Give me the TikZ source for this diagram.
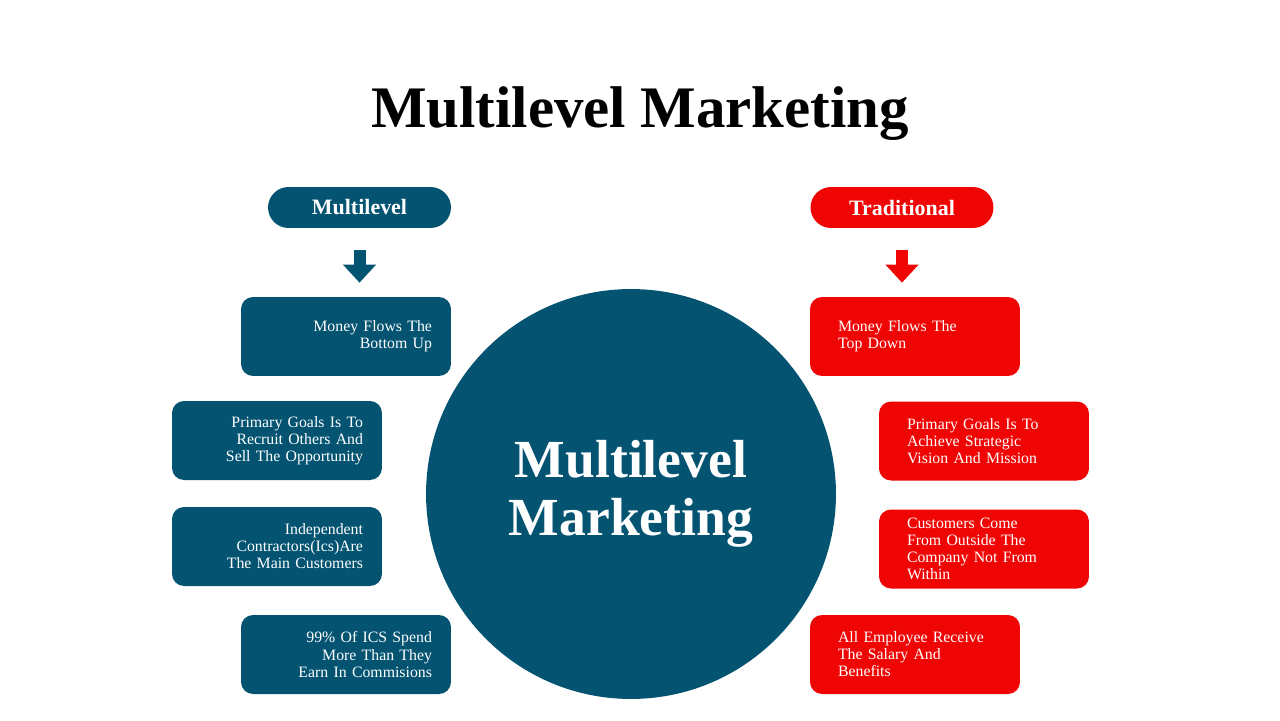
\documentclass[tikz,border=0pt]{standalone}
\usepackage{fontspec}
\setmainfont{Liberation Serif}
\definecolor{mlmBlue}{RGB}{3, 83, 113}
\definecolor{mlmRed}{RGB}{240, 5, 5}
\usetikzlibrary{arrows.meta}

\begin{document}
\begin{tikzpicture}[x=0.02cm, y=-0.02cm,
      every node/.style={font=\fontsize{9}{9.7}\selectfont, text=white},
      pill/.style={rectangle, rounded corners=4.1mm, minimum width=36.6mm, minimum height=8.2mm, font=\fontsize{12.5}{14}\selectfont\bfseries},
      card/.style={rectangle, rounded corners=2.4mm, minimum width=42mm, minimum height=15.8mm},
      lcard/.style={card, fill=mlmBlue, align=right, inner xsep=3.8mm, text width=34.4mm},
      rcard/.style={card, fill=mlmRed, align=left, inner xsep=5.6mm, text width=30.8mm},
      down/.style={line width=2.4mm, -{Triangle[width=6.4mm, length=3.6mm]}, shorten <=4.4mm, shorten >=2.8mm},
      big/.style={font=\fontsize{30.5}{33}\selectfont\bfseries, align=center}
    ]
      \useasboundingbox (0,0) rectangle (1280,720);

      % title
      \node[font=\fontsize{33.5}{36}\selectfont\bfseries, text=black] (title) at (640,114) {Multilevel Marketing};

      % centre circle
      \node[circle, fill=mlmBlue, minimum size=82mm, big] (core) at (631,494) {Multilevel\\Marketing};

      % multilevel side
      \node[pill, fill=mlmBlue] (ml) at (359.5,207.5) {Multilevel};
      \node[lcard] (mb1) at (346,336.5) {Money Flows The\\Bottom Up};
      \node[lcard] (mb2) at (277,440.5) {Primary Goals Is To\\Recruit Others And\\Sell The Opportunity};
      \node[lcard] (mb3) at (277,546.5) {Independent\\Contractors(Ics)Are\\The Main Customers};
      \node[lcard] (mb4) at (346,654.5) {99\% Of ICS Spend\\More Than They\\Earn In Commisions};

      % traditional side
      \node[pill, fill=mlmRed] (tr) at (902,207.5) {Traditional};
      \node[rcard] (tb1) at (915,336.5) {Money Flows The\\Top Down};
      \node[rcard] (tb2) at (984,441) {Primary Goals Is To\\Achieve Strategic\\Vision And Mission};
      \node[rcard] (tb3) at (984,549) {Customers Come\\From Outside The\\Company Not From\\Within};
      \node[rcard] (tb4) at (915,654.5) {All Employee Receive\\The Salary And\\Benefits};

      \draw[down, mlmBlue] (ml.south) -- (ml.south |- mb1.north);
      \draw[down, mlmRed] (tr.south) -- (tr.south |- tb1.north);
    \end{tikzpicture}
\end{document}
